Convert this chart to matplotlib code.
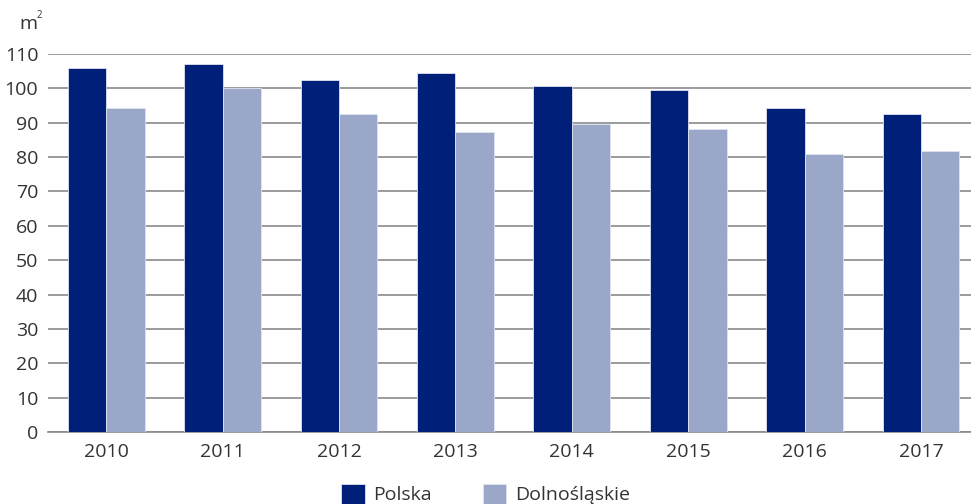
import numpy as np
import matplotlib.pyplot as plt

years = ['2010', '2011', '2012', '2013', '2014', '2015', '2016', '2017']
polska = [105.9, 107.0, 102.4, 104.6, 100.7, 99.6, 94.4, 92.5]
dolnoslaskie = [94.3, 100.0, 92.5, 87.2, 89.6, 88.3, 81.0, 81.7]

plt.rcParams['font.family'] = ['Open Sans', 'DejaVu Sans']
text_color = '#333333'

fig = plt.figure(figsize=(9.71, 5.04), dpi=100)
ax = fig.add_axes([48 / 971, 1 - 432 / 504, 923 / 971, (432 - 54) / 504])

x = np.arange(len(years))
w = 0.33
ax.bar(x - w / 2, polska, w, color='#001F78', edgecolor='#dfe3ef', linewidth=0.6,
       label='Polska', zorder=3)
ax.bar(x + w / 2, dolnoslaskie, w, color='#9BA7C9', edgecolor='#dfe3ef', linewidth=0.6,
       label='Dolnośląskie', zorder=3)

ax.set_ylim(0, 110)
ax.set_xlim(-0.5, 7.43)
ax.set_yticks(range(0, 111, 10))
ax.set_xticks(x)
ax.set_xticklabels(years)
ax.yaxis.grid(True, color='#8a8a8a', linewidth=1.2)
ax.set_axisbelow(True)
for s in ['top', 'right', 'left']:
    ax.spines[s].set_visible(False)
ax.spines['bottom'].set_color('#8a8a8a')
ax.spines['bottom'].set_linewidth(1.2)
ax.tick_params(axis='both', length=0, labelsize=14, colors=text_color)
ax.tick_params(axis='y', pad=7)
ax.tick_params(axis='x', pad=8)

fig.text(19 / 971, 1 - 24 / 504, 'm', fontsize=14, color=text_color, va='center')
fig.text(37 / 971, 1 - 16 / 504, '2', fontsize=7, color=text_color, va='center')

fig.legend(loc='center', bbox_to_anchor=(0.5, 1 - 494 / 504), ncol=2, frameon=False,
           fontsize=14, handlelength=1.2, handleheight=1.2, handletextpad=0.45,
           columnspacing=2.6, labelcolor=text_color)

fig.savefig('out.png', dpi=100)
